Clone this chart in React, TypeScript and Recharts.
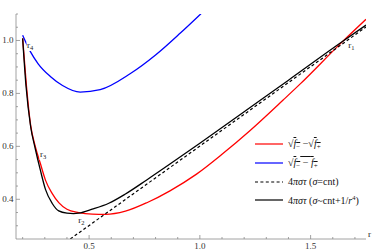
import React from 'react';
import { LineChart, Line, XAxis, YAxis, ReferenceDot, Legend } from 'recharts';

// ---- data ----
const redR = [0.2, 0.217, 0.236, 0.257, 0.28, 0.303, 0.333, 0.363, 0.4, 0.453, 0.514, 0.574, 0.664, 0.763, 0.865, 0.985, 1.1, 1.227, 1.376, 1.452, 1.637, 1.75];
const redV = [1.008, 0.83, 0.68, 0.6, 0.535, 0.4725, 0.4225, 0.3875, 0.3625, 0.35, 0.344, 0.343, 0.355, 0.388, 0.432, 0.495, 0.57, 0.66, 0.775, 0.835, 0.99, 1.08];

const blueR = [0.2, 0.235, 0.27, 0.325, 0.38, 0.46, 0.55, 0.685, 0.8, 0.912, 1.005];
const blueV = [1.02, 0.958, 0.912, 0.864, 0.83, 0.805, 0.814, 0.874, 0.945, 1.028, 1.101];

const blackR = [0.2, 0.215, 0.236, 0.257, 0.28, 0.303, 0.333, 0.363, 0.4, 0.43, 0.453, 0.514, 0.589, 0.664, 0.76, 0.865, 1.0, 1.2, 1.4, 1.637, 1.75];
const blackV = [1.008, 0.83, 0.675, 0.591, 0.51, 0.4375, 0.385, 0.356, 0.3475, 0.346, 0.3475, 0.3625, 0.385, 0.42, 0.473, 0.533, 0.612, 0.731, 0.85, 0.992, 1.058];

const dashR = [0.415, 1.75];
const dashV = [0.25, 1.051];

const xTicks = [0.2, 0.3, 0.4, 0.5, 0.6, 0.7, 0.8, 0.9, 1.0, 1.1, 1.2, 1.3, 1.4, 1.5, 1.6, 1.7];
const xMajor = [0.5, 1.0, 1.5];
const yTicks = [0.3, 0.35, 0.4, 0.45, 0.5, 0.55, 0.6, 0.65, 0.7, 0.75, 0.8, 0.85, 0.9, 0.95, 1.0, 1.05, 1.1];
const yMajor = [0.4, 0.6, 0.8, 1.0];

const labelR = [1.6702, 0.4513, 0.2784, 0.2197];
const labelV = [0.9716, 0.3104, 0.5598, 0.9716];
const labelSub = ['1', '2', '3', '4'];

const toPts = (xs: number[], ys: number[]) => xs.map((x, i) => ({ x, y: ys[i] }));
const redData = toPts(redR, redV);
const blueData = toPts(blueR, blueV);
const blackData = toPts(blackR, blackV);
const dashData = toPts(dashR, dashV);

const FONT = '"Liberation Serif", "DejaVu Serif", serif';
const AXIS = '#8a8a8a';

const isMajor = (list: number[], v: number) => list.some((m) => Math.abs(m - v) < 1e-6);

const XTick = (props: any) => {
  const { x, y, payload } = props;
  const major = isMajor(xMajor, payload.value);
  return (
    <g>
      <line x1={x} x2={x} y1={y} y2={y - (major ? 4 : 2)} stroke={AXIS} strokeWidth={0.8} />
      {major && (
        <text x={x} y={y + 10} textAnchor="middle" fontFamily={FONT} fontSize={9} fill="#333">
          {payload.value.toFixed(1)}
        </text>
      )}
    </g>
  );
};

const YTick = (props: any) => {
  const { x, y, payload } = props;
  const major = isMajor(yMajor, payload.value);
  return (
    <g>
      <line x1={x} x2={x + (major ? 4 : 2)} y1={y} y2={y} stroke={AXIS} strokeWidth={0.8} />
      {major && (
        <text x={x - 2.5} y={y + 3} textAnchor="end" fontFamily={FONT} fontSize={9} fill="#333">
          {payload.value.toFixed(1)}
        </text>
      )}
    </g>
  );
};

const makeLabel = (sub: string) => (props: any) => {
  const { cx, cy } = props;
  return (
    <g>
      <rect x={cx - 0.5} y={cy - 6} width={9} height={9} fill="#fff" />
      <text x={cx} y={cy} fontFamily={FONT} fontSize={9} fill="#222">
        r
        <tspan dy={2} fontSize={6.5}>
          {sub}
        </tspan>
      </text>
    </g>
  );
};

const axisLabel = (props: any) => {
  const { cx, cy } = props;
  return (
    <text x={cx} y={cy} fontFamily={FONT} fontSize={9} fill="#222">
      r
    </text>
  );
};

const ov: React.CSSProperties = { textDecoration: 'overline' };
const sub: React.CSSProperties = { fontSize: '70%', verticalAlign: '-2px' };

const legendRows = [
  {
    color: '#ff0000',
    dash: undefined as string | undefined,
    label: (
      <>
        √<span style={ov}><i>f</i><span style={sub}>−</span></span> −√<span style={ov}><i>f</i><span style={sub}>+</span></span>
      </>
    ),
  },
  {
    color: '#0000ff',
    dash: undefined,
    label: (
      <>
        √<span style={ov}><i>f</i><span style={sub}>−</span> − <i>f</i><span style={sub}>+</span></span>
      </>
    ),
  },
  {
    color: '#000',
    dash: '3 2.4',
    label: (
      <>
        4<i>πστ</i> (<i>σ</i>=cnt)
      </>
    ),
  },
  {
    color: '#000',
    dash: undefined,
    label: (
      <>
        4<i>πστ</i> (<i>σ</i>~cnt+1/<i>r</i><span style={{ fontSize: '65%', verticalAlign: '4px' }}>4</span>)
      </>
    ),
  },
];

const LegendContent = () => (
  <div style={{ fontFamily: FONT, fontSize: 10, color: '#111' }}>
    {legendRows.map((r, i) => (
      <div key={i} style={{ height: 18.7, display: 'flex', alignItems: 'center', whiteSpace: 'nowrap' }}>
        <svg width={33} height={6} style={{ flex: 'none' }}>
          <line x1={0} x2={28} y1={3} y2={3} stroke={r.color} strokeWidth={1.2} strokeDasharray={r.dash} />
        </svg>
        <span>{r.label}</span>
      </div>
    ))}
  </div>
);

export default function App() {
  return (
    <div style={{ position: 'absolute', left: 0, top: 0, width: 376, height: 252, background: '#fff' }}>
      <LineChart width={376} height={252} margin={{ top: 14, right: 10, left: 0, bottom: 0 }}>
        <XAxis
          type="number"
          dataKey="x"
          domain={[0.17, 1.75]}
          ticks={xTicks}
          interval={0}
          allowDataOverflow
          height={13}
          tickSize={0}
          tickMargin={0}
          tickLine={false}
          tick={<XTick />}
          axisLine={{ stroke: AXIS, strokeWidth: 0.8 }}
        />
        <YAxis
          type="number"
          dataKey="y"
          domain={[0.25, 1.1]}
          ticks={yTicks}
          interval={0}
          allowDataOverflow
          width={16}
          tickSize={0}
          tickMargin={0}
          tickLine={false}
          tick={<YTick />}
          axisLine={{ stroke: AXIS, strokeWidth: 0.8 }}
        />
        <Line data={blueData} dataKey="y" type="monotone" stroke="#0000ff" strokeWidth={1.3} dot={false} isAnimationActive={false} />
        <Line data={redData} dataKey="y" type="monotone" stroke="#ff0000" strokeWidth={1.3} dot={false} isAnimationActive={false} />
        <Line data={dashData} dataKey="y" type="linear" stroke="#000" strokeWidth={1.2} strokeDasharray="3 2.4" dot={false} isAnimationActive={false} />
        <Line data={blackData} dataKey="y" type="monotone" stroke="#000" strokeWidth={1.3} dot={false} isAnimationActive={false} />
        {labelR.map((r, i) => (
          <ReferenceDot key={i} x={r} y={labelV[i]} r={0} ifOverflow="visible" shape={makeLabel(labelSub[i])} />
        ))}
        <ReferenceDot x={1.759} y={0.2575} r={0} ifOverflow="visible" shape={axisLabel} />
        <Legend
          layout="vertical"
          align="center"
          verticalAlign="middle"
          content={<LegendContent />}
          wrapperStyle={{ position: 'absolute', left: 255, top: 135, width: 121, height: 76 }}
        />
      </LineChart>
    </div>
  );
}
